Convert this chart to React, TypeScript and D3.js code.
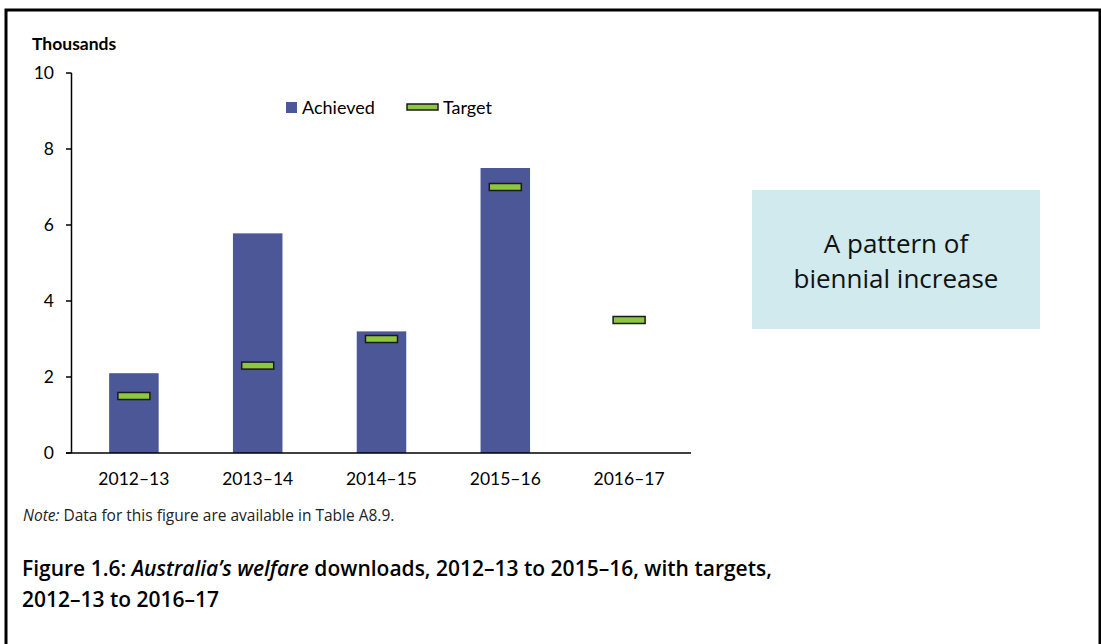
import * as d3 from 'd3'
import React from 'react'

// data (thousands)
const years = ['2012–13', '2013–14', '2014–15', '2015–16', '2016–17']
const achieved = [2.1, 5.78, 3.2, 7.5, null]
const targets = [1.5, 2.3, 3.0, 7.0, 3.5]
const yTicks = [0, 2, 4, 6, 8, 10]

const W = 1101
const H = 644
const chartFont = 'Lato, "Open Sans", sans-serif'
const textFont = '"Open Sans", "Noto Sans", sans-serif'

const barColor = '#4b5797'
const targetColor = '#8dc63f'

export default function App() {
  const x = d3.scaleBand<string>().domain(years).range([72, 691]).paddingInner(0.6).paddingOuter(0.3)
  const y = d3.scaleLinear().domain([0, 10]).range([453, 73])
  const step = x.step()
  const markerW = 32
  const markerH = 7

  return (
    <svg
      width={W}
      height={H}
      style={{ position: 'absolute', left: 0, top: 0, display: 'block', background: '#fff' }}
    >
      {/* outer frame */}
      <rect x={6} y={10} width={1094} height={700} fill="none" stroke="#000" strokeWidth={3} />

      {/* y axis title */}
      <text x={32} y={50} fontFamily={chartFont} fontWeight={700} fontSize={17.5} fill="#000">
        Thousands
      </text>

      {/* bars */}
      {years.map((yr, i) =>
        achieved[i] == null ? null : (
          <rect
            key={'b' + yr}
            x={x(yr)}
            y={y(achieved[i] as number)}
            width={x.bandwidth()}
            height={y(0) - y(achieved[i] as number)}
            fill={barColor}
          />
        ),
      )}

      {/* target markers */}
      {years.map((yr, i) => (
        <rect
          key={'t' + yr}
          x={(x(yr) as number) + x.bandwidth() / 2 - markerW / 2}
          y={y(targets[i]) - markerH / 2}
          width={markerW}
          height={markerH}
          fill={targetColor}
          stroke="#1a1a1a"
          strokeWidth={1.5}
        />
      ))}

      {/* y axis */}
      <line x1={71.5} x2={71.5} y1={y(10)} y2={y(0)} stroke="#000" strokeWidth={1.5} />
      {yTicks.map(t => (
        <g key={'y' + t}>
          <line x1={66} x2={71.5} y1={y(t)} y2={y(t)} stroke="#000" strokeWidth={1.5} />
          <text
            x={54}
            y={y(t) + 6}
            textAnchor="end"
            fontFamily={chartFont}
            fontSize={17.5}
            fill="#000"
          >
            {t}
          </text>
        </g>
      ))}

      {/* x axis */}
      <line x1={66} x2={72 + step * 5} y1={y(0)} y2={y(0)} stroke="#000" strokeWidth={1.5} />
      {years.map(yr => (
        <text
          key={'x' + yr}
          x={(x(yr) as number) + x.bandwidth() / 2}
          y={485}
          textAnchor="middle"
          fontFamily={chartFont}
          fontSize={17.5}
          fill="#000"
        >
          {yr}
        </text>
      ))}

      {/* legend */}
      <rect x={286} y={102} width={11} height={11} fill={barColor} />
      <text x={302} y={114} fontFamily={chartFont} fontSize={18} fill="#000">
        Achieved
      </text>
      <rect x={407} y={104} width={31} height={6} fill={targetColor} stroke="#1a1a1a" strokeWidth={1.5} />
      <text x={443} y={114} fontFamily={chartFont} fontSize={18} fill="#000">
        Target
      </text>

      {/* annotation box */}
      <rect x={752} y={190} width={288} height={139} fill="#d0eaed" />
      <text x={896} y={253} textAnchor="middle" fontFamily={textFont} fontSize={26} fill="#111">
        A pattern of
      </text>
      <text x={896} y={288} textAnchor="middle" fontFamily={textFont} fontSize={26} fill="#111">
        biennial increase
      </text>

      {/* note */}
      <text x={23} y={521} fontFamily={textFont} fontSize={15.5} fill="#222">
        <tspan fontStyle="italic">Note:</tspan> Data for this figure are available in Table A8.9.
      </text>

      {/* caption */}
      <text x={22} y={576} fontFamily={textFont} fontWeight={600} fontSize={21} fill="#000">
        Figure 1.6: <tspan fontStyle="italic">Australia’s welfare</tspan> downloads, 2012–13 to
        2015–16, with targets,
      </text>
      <text x={22} y={607} fontFamily={textFont} fontWeight={600} fontSize={21} fill="#000">
        2012–13 to 2016–17
      </text>
    </svg>
  )
}
